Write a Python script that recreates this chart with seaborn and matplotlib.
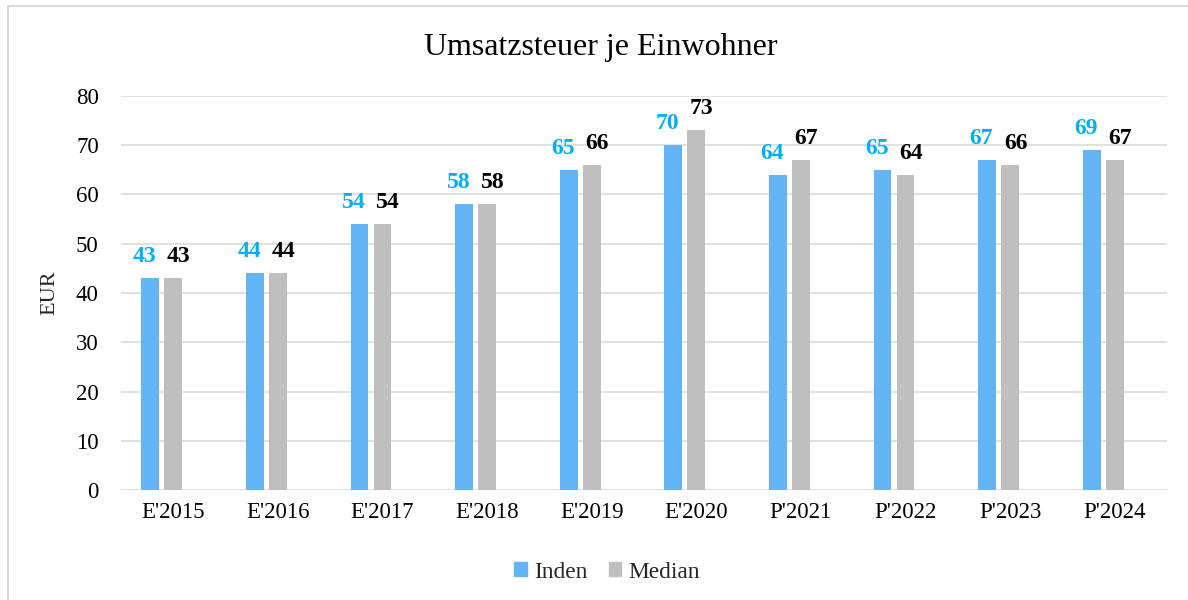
#Umsatzsteuer je Einwohner - gruppiertes Balkendiagramm
import matplotlib
matplotlib.use("Agg")
import matplotlib.pyplot as plt
from matplotlib.patches import Patch, Rectangle
import seaborn as sns
import pandas as pd
import numpy as np

# Daten
jahre = ["E'2015", "E'2016", "E'2017", "E'2018", "E'2019",
         "E'2020", "P'2021", "P'2022", "P'2023", "P'2024"]
inden = [43, 44, 54, 58, 65, 70, 64, 65, 67, 69]
median = [43, 44, 54, 58, 66, 73, 67, 64, 66, 67]

# Farben
blau = "#63B4F5"
grau = "#BFBFBF"
blau_text = "#00B0F0"

# Thema setzen, danach die Schrift
sns.set_theme(style="white")
plt.rcParams['font.family'] = ['Liberation Serif', 'DejaVu Serif']

# DataFrame im langen Format (dritte leere Reihe wie im Original-Excel)
df = pd.DataFrame({"Jahr": jahre, "Inden": inden, "Median": median})
df["leer"] = np.nan
df_lang = df.melt(id_vars="Jahr", var_name="Reihe", value_name="EUR")

fig = plt.figure(figsize=(11.88, 6), dpi=100)
ax = fig.add_axes([121/1188, 110/600, 1046/1188, 394/600])

sns.barplot(data=df_lang, x="Jahr", y="EUR", hue="Reihe",
            hue_order=["Inden", "Median", "leer"],
            palette={"Inden": blau, "Median": grau, "leer": "white"},
            width=0.66, gap=0.22, saturation=1, errorbar=None,
            linewidth=0, legend=False, ax=ax)

# Achsen
ax.set_ylim(0, 80)
ax.set_yticks(range(0, 81, 10))
ax.set_xlim(-0.5, len(jahre) - 0.5)
ax.set_xlabel("")
ax.set_ylabel("EUR", fontsize=16, labelpad=12)
ax.tick_params(axis="both", labelsize=16.5, length=0, colors="black")
ax.tick_params(axis="x", pad=9)
ax.tick_params(axis="y", pad=16)
ax.grid(axis="y", color="#D9D9D9", linewidth=1.1)
ax.set_axisbelow(True)
for s in ax.spines.values():
    s.set_visible(False)

# Datenbeschriftungen
for cont, farbe, dx in [(ax.containers[0], blau_text, -4), (ax.containers[1], "black", 4)]:
    for bar in cont:
        h = bar.get_height()
        if np.isnan(h):
            continue
        ax.annotate(f"{h:.0f}", xy=(bar.get_x() + bar.get_width() / 2, h),
                    xytext=(dx, 8), textcoords="offset points",
                    ha="center", va="bottom", fontsize=17,
                    fontweight="bold", color=farbe)

# Titel
fig.text(0.506, 1 - 47/600, "Umsatzsteuer je Einwohner", fontsize=23,
         ha="center", va="center", color="black")

# Legende
handles = [Patch(color=blau, label="Inden"), Patch(color=grau, label="Median")]
fig.legend(handles=handles, loc="center", bbox_to_anchor=(0.511, 1 - 572/600),
           ncol=2, frameon=False, fontsize=16.8, handlelength=0.55,
           handleheight=0.55, handletextpad=0.3, columnspacing=0.9)

# Rahmen um die Grafik
fig.patches.append(Rectangle((8/1188, -0.02), 1.0, 1.02 - 6/600,
                             transform=fig.transFigure, fill=False,
                             edgecolor="#D9D9D9", linewidth=1.5))

fig.savefig("out.png", dpi=100)
